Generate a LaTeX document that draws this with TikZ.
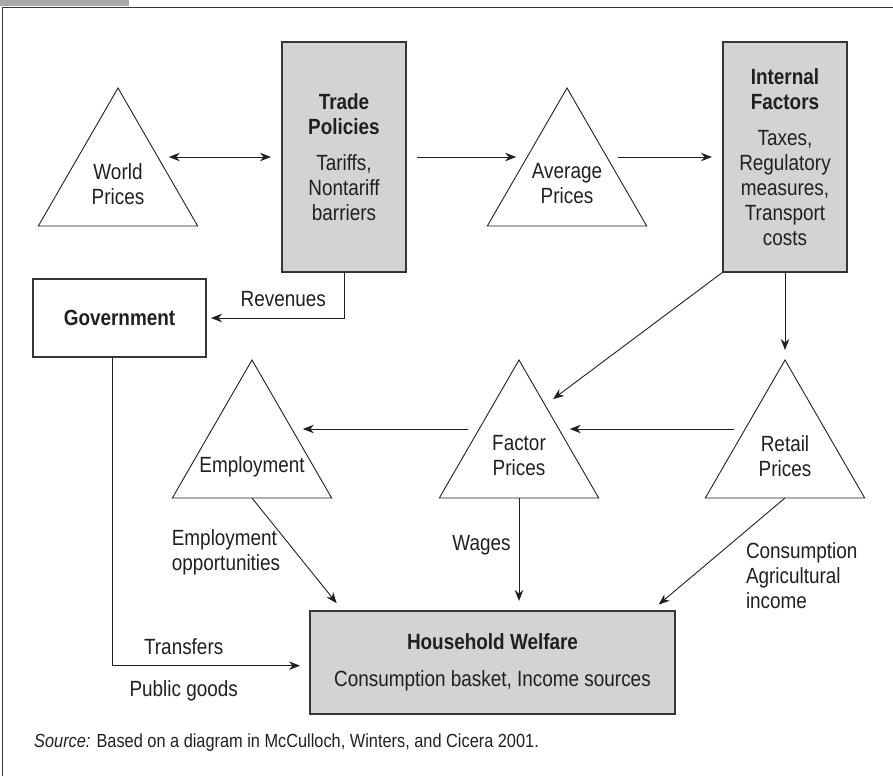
\documentclass[tikz,border=0pt]{standalone}
\usepackage{fontspec}
\setmainfont{Liberation Sans}[FakeStretch=0.86]
\usetikzlibrary{positioning, arrows.meta, shapes.geometric}
\definecolor{boxgray}{HTML}{D1D3D4}
\definecolor{tabgray}{HTML}{A7A9AC}
\definecolor{ink}{HTML}{231F20}

\begin{document}
\begin{tikzpicture}[x=1pt, y=-1pt,
  every node/.style={text=ink, font=\fontsize{22}{25}\selectfont},
  every label/.style={align=center, yshift=-4pt},
  >={Stealth[length=11pt, width=8.5pt]},
  tri/.style={draw=ink, line width=0.9pt, regular polygon, regular polygon sides=3,
    minimum size=184pt, inner sep=0pt, outer sep=0pt},
  box/.style={draw=ink!90, line width=1.3pt, fill=boxgray, align=center, inner sep=0pt, outer sep=0pt},
  plain/.style={box, fill=white},
  arrow/.style={draw=ink, line width=0.9pt, ->, shorten >=10pt},
  both gap/.style={shorten <=11pt, shorten >=11pt},
  lbl/.style={inner sep=0pt, align=left}
]
  \useasboundingbox (0,0) rectangle (893,776);
  \fill[tabgray] (0,0) rectangle (129,6.5);
  \draw[ink!90, line width=1.2pt] (2.5,776) -- (2.5,7.5) -- (893,7.5);

  \node[tri, label={center:World\\Prices}] (world) at (118,180) {};
  \node[box, minimum width=124pt, minimum height=230pt] (trade) at (344,157)
    {\textbf{Trade}\\\textbf{Policies}\\[11pt]Tariffs,\\Nontariff\\barriers};
  \node[tri, label={center:Average\\Prices}] (avg) at (567,180) {};
  \node[box, minimum width=124pt, minimum height=230pt] (internal) at (785,157)
    {\textbf{Internal}\\\textbf{Factors}\\[11pt]Taxes,\\Regulatory\\measures,\\Transport\\costs};
  \node[plain, minimum width=173pt, minimum height=78pt] (gov) at (119.5,318) {\textbf{Government}};
  \node[tri, label={[yshift=-11pt]center:Employment}] (emp) at (252,452) {};
  \node[tri, label={center:Factor\\Prices}] (factor) at (519,452) {};
  \node[tri, label={center:Retail\\Prices}] (retail) at (785,452) {};
  \node[box, minimum width=365pt, minimum height=103pt] (house) at (492.5,662.5)
    {\textbf{Household Welfare}\\[12pt]Consumption basket, Income sources};
  \node[anchor=west, inner sep=0pt, font=\fontsize{19}{23}\selectfont] (src) at (34,743)
    {\textit{Source:} Based on a diagram in McCulloch, Winters, and Cicera 2001.};

  \draw[arrow, both gap, <->] (world.side 3) -- (trade.west);
  \draw[arrow, both gap] (trade.east) -- (avg.side 1);
  \draw[arrow, both gap] (avg.side 3) -- (internal.west);
  \draw[arrow, shorten >=5pt] (trade.south) |- node[lbl, above=11pt, pos=0.72] (revlbl) {Revenues} (gov.east);
  \draw[arrow] (internal.south) -- (retail.corner 1);
  \draw[arrow] (internal.south west) -- (factor.61);
  \draw[arrow, both gap] (retail.side 1) -- (factor.side 3);
  \draw[arrow, both gap] (factor.side 1) -- (emp.side 3);
  \draw[arrow] (emp.side 2) -- node[lbl, left=15pt, pos=0.48] (emplbl) {Employment\\opportunities} (house.161);
  \draw[arrow] (factor.side 2) -- node[lbl, left=8pt, pos=0.42] (wagelbl) {Wages} (factor.side 2 |- house.north);
  \draw[arrow] (retail.side 2) -- node[lbl, right=53pt, pos=0.69] (retlbl) {Consumption\\Agricultural\\income} (house.18);
  \draw[arrow] (gov.260) |- node[lbl, above=11pt, pos=0.68] (trlbl) {Transfers}
    node[lbl, below=14pt, pos=0.68] (pglbl) {Public goods} (house.181);
\end{tikzpicture}
\end{document}
